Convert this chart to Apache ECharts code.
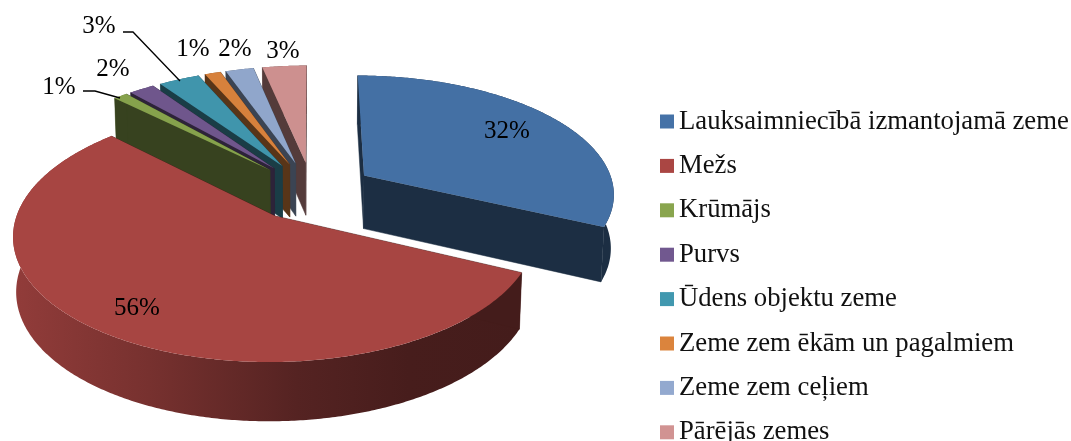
<!DOCTYPE html>
<html>
<head>
<meta charset="utf-8">
<style>
  html, body { margin: 0; padding: 0; background: #fff; overflow: hidden; }
  #chart { width: 1071px; height: 441px; }
</style>
<script src="https://cdn.jsdelivr.net/npm/echarts@6/dist/echarts.min.js"></script>
</head>
<body>
<div id="chart"></div>
<script>
const categories = ['Lauksaimniecībā izmantojamā zeme', 'Mežs', 'Krūmājs', 'Purvs', 'Ūdens objektu zeme', 'Zeme zem ēkām un pagalmiem', 'Zeme zem ceļiem', 'Pārējās zemes']
const shares = [32, 55.4, 1.05, 1.9, 3.05, 1.2, 2.1, 3.3]
const shareLabels = ['32%', '56%', '1%', '2%', '3%', '1%', '2%', '3%']
const colors = ['#4572A7', '#AA4643', '#89A54E', '#71588F', '#4198AF', '#DB843D', '#93A9CF', '#D19392']

// where the percent labels sit, and the two leader lines
const labelPlaces = [[507, 131], [137, 308], [59, 87], [113, 69], [99, 26], [193, 49], [235, 49], [283, 51]]
const leaders = { 2: [[83, 91], [95, 91], [120, 98]], 4: [[123, 32], [133, 32], [180, 81]] }

// perspective of the 3D pie, fitted to the picture
const cx = 312, cy = 191, radiusX = 251, radiusY = 118, depth = 55
const persp = 0.14, shrinkX = 0.01, shrinkY = 0.025, explode = 0.25

function project(u, v, z) {
  const w = 1 - persp * v
  return [cx + radiusX * u / (w + shrinkX * z), cy + (radiusY * v + depth * z) / (w + shrinkY * z)]
}

function shade(hex, k) {
  const n = parseInt(hex.slice(1), 16)
  const c = [n >> 16, (n >> 8) & 255, n & 255].map(a => Math.round(a * k))
  return 'rgb(' + c.join(',') + ')'
}

function renderSlice(params, api) {
  const i = params.seriesIndex
  const a0 = api.value(0) / 100 * Math.PI * 2
  const a1 = api.value(1) / 100 * Math.PI * 2
  const mid = (a0 + a1) / 2
  const ou = explode * Math.sin(mid)
  const ov = -explode * Math.cos(mid)
  const base = colors[i]
  const rim = []
  const steps = Math.max(2, Math.ceil((a1 - a0) / 0.01))
  for (let s = 0; s <= steps; s++) {
    const a = a0 + (a1 - a0) * s / steps
    rim.push([ou + Math.sin(a), ov - Math.cos(a)])
  }
  const first = rim[0]
  const last = rim[rim.length - 1]
  // slices further back are painted first
  const order = Math.round((ov + 1) * 1000)
  const wall = shade(base, 0.4)
  const sideFill = {
    type: 'linear', x: 12, y: 0, x2: 520, y2: 0, global: true,
    colorStops: [
      { offset: 0, color: shade(base, 0.86) },
      { offset: 0.27, color: shade(base, 0.7) },
      { offset: 0.56, color: shade(base, 0.5) },
      { offset: 0.78, color: shade(base, 0.42) },
      { offset: 1, color: shade(base, 0.4) }
    ]
  }
  const radial = p => [project(ou, ov, 0), project(p[0], p[1], 0), project(p[0], p[1], 1), project(ou, ov, 1)]
  const outer = rim.map(p => project(p[0], p[1], 0)).concat(rim.slice().reverse().map(p => project(p[0], p[1], 1)))
  const top = [project(ou, ov, 0)].concat(rim.map(p => project(p[0], p[1], 0)))
  const children = [
    { type: 'polygon', z2: order, shape: { points: outer }, style: { fill: sideFill } },
    { type: 'polygon', z2: order + 1, shape: { points: radial(first) }, style: { fill: wall, stroke: wall, lineWidth: 0.5 } },
    { type: 'polygon', z2: order + 1, shape: { points: radial(last) }, style: { fill: wall, stroke: wall, lineWidth: 0.5 } },
    { type: 'polygon', z2: order + 2, shape: { points: top }, style: { fill: shade(base, 0.98) } },
    {
      type: 'text', z2: 3000, x: labelPlaces[i][0], y: labelPlaces[i][1],
      style: { text: shareLabels[i], font: '25px "Liberation Serif"', fill: '#000', align: 'center', verticalAlign: 'middle' }
    }
  ]
  if (leaders[i]) {
    children.push({ type: 'polyline', z2: 3000, shape: { points: leaders[i] }, style: { stroke: '#000', lineWidth: 1.3, fill: 'none' } })
  }
  return { type: 'group', children }
}

let running = 0
const series = categories.map((name, i) => {
  const start = running
  running += shares[i]
  return {
    name,
    type: 'custom',
    coordinateSystem: 'none',
    renderItem: renderSlice,
    silent: true,
    animation: false,
    itemStyle: { color: colors[i] },
    data: [[start, running]]
  }
})

const chart = echarts.init(document.getElementById('chart'), null, { renderer: 'canvas' })
chart.setOption({
  backgroundColor: '#fff',
  animation: false,
  color: colors,
  legend: {
    orient: 'vertical',
    left: 660,
    top: 108,
    height: 400,
    padding: 0,
    icon: 'rect',
    itemWidth: 14,
    itemHeight: 14,
    itemGap: 17.4,
    selectedMode: false,
    textStyle: { fontFamily: 'Liberation Serif', fontSize: 26.7, color: '#111', padding: [0, 0, 0, 0] },
    data: categories
  },
  series
})
</script>
</body>
</html>
